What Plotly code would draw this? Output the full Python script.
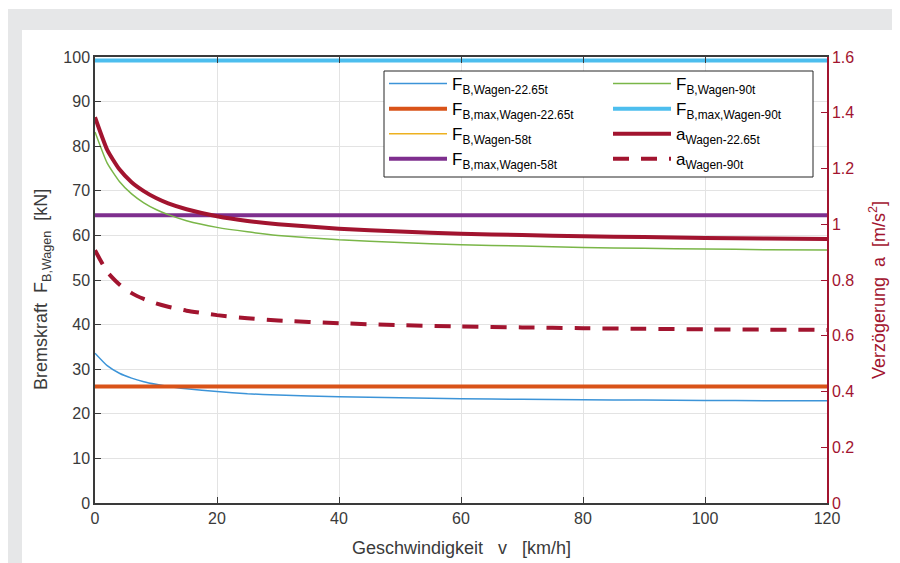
import plotly.graph_objects as go

# ---------------- data ----------------
v = [0, 2, 4, 6, 8, 10, 12, 15, 20, 25, 30, 40, 50, 60, 70, 80, 90, 100, 110, 120]

F_22 = [33.6, 30.8, 29.1, 28.0, 27.2, 26.6, 26.1, 25.6, 25.0, 24.5, 24.2, 23.8, 23.6, 23.4,
        23.25, 23.15, 23.07, 23.0, 22.95, 22.9]
F_58 = [86.5, 79.2, 74.8, 72.0, 69.9, 68.4, 67.2, 65.9, 64.3, 63.3, 62.5, 61.5, 60.9, 60.4,
        60.1, 59.8, 59.6, 59.45, 59.3, 59.2]
F_90 = [83.2, 76.2, 72.1, 69.3, 67.3, 65.8, 64.65, 63.3, 61.8, 60.8, 60.0, 59.0, 58.4, 57.9,
        57.6, 57.3, 57.1, 56.95, 56.8, 56.7]
Fmax_22 = [26.1] * len(v)
Fmax_58 = [64.5] * len(v)
Fmax_90 = [99.2] * len(v)

a_22 = [1.384, 1.267, 1.197, 1.151, 1.119, 1.094, 1.075, 1.054, 1.029, 1.012, 1.000, 0.984,
        0.974, 0.966, 0.961, 0.957, 0.954, 0.951, 0.949, 0.947]
a_90 = [0.907, 0.829, 0.784, 0.753, 0.732, 0.716, 0.704, 0.690, 0.674, 0.663, 0.655, 0.645,
        0.638, 0.633, 0.630, 0.627, 0.625, 0.623, 0.622, 0.621]

x_ticks = [0, 20, 40, 60, 80, 100, 120]
y_ticks = list(range(0, 101, 10))
y2_ticks = [0, 0.2, 0.4, 0.6, 0.8, 1.0, 1.2, 1.4, 1.6]

# ---------------- styling ----------------
FONT = "Liberation Sans, Arial, sans-serif"
GREY = "#3a3a3a"
RED = "#a2142f"
W, H = 900, 563
OFF = 8                      # page (body) offset of the figure in the window
# plot area in window pixels
SL, SR, ST, SB = 95, 827, 57, 503
L, R, T, B = SL - OFF, SR - OFF, ST - OFF, SB - OFF
NB = "\u00a0"


def px_x(s):
    """window x pixel -> paper x"""
    return (s - OFF - L) / (R - L)


def px_y(s):
    """window y pixel -> paper y"""
    return (B - (s - OFF)) / (B - T)


fig = go.Figure()


def add(y, name, color, width, legend, yaxis="y", dash="solid"):
    fig.add_trace(go.Scatter(
        x=v, y=y, name=name, mode="lines", yaxis=yaxis, legend=legend,
        line=dict(color=color, width=width, dash=dash, shape="spline", smoothing=0.5),
        hoverinfo="skip"))


add(F_22, "F<sub>B,Wagen-22.65t</sub>", "#3c94d8", 1.5, "legend")
add(Fmax_22, "F<sub>B,max,Wagen-22.65t</sub>", "#d95319", 4, "legend")
add(F_58, "F<sub>B,Wagen-58t</sub>", "#edb120", 1.5, "legend")
add(Fmax_58, "F<sub>B,max,Wagen-58t</sub>", "#7e2f8e", 4, "legend")
add(F_90, "F<sub>B,Wagen-90t</sub>", "#7ab648", 1.5, "legend2")
add(Fmax_90, "F<sub>B,max,Wagen-90t</sub>", "#4dbeee", 4, "legend2")
add(a_22, "a<sub>Wagen-22.65t</sub>", RED, 4, "legend2", yaxis="y2")
add(a_90, "a<sub>Wagen-90t</sub>", RED, 4, "legend2", yaxis="y2", dash="16px,12px")

shapes = [
    # outer grey frame and inner white panel
    dict(type="rect", xref="paper", yref="paper", layer="below",
         x0=px_x(8), x1=px_x(W + 30), y0=px_y(H + 30), y1=px_y(9),
         fillcolor="#e6e7e8", line=dict(width=0)),
    dict(type="rect", xref="paper", yref="paper", layer="below",
         x0=px_x(22), x1=px_x(894), y0=px_y(H + 30), y1=px_y(30),
         fillcolor="white", line=dict(width=0)),
    # legend box
    dict(type="rect", xref="paper", yref="paper", layer="above",
         x0=px_x(384), x1=px_x(813), y0=px_y(177), y1=px_y(71),
         fillcolor="white", line=dict(color="#262626", width=1)),
]

legend_common = dict(
    bgcolor="rgba(0,0,0,0)", borderwidth=0, font=dict(family=FONT, size=17, color="#000"),
    itemwidth=58, tracegroupgap=0, yanchor="top", xanchor="left", orientation="v",
    itemclick=False, itemdoubleclick=False)

annotations = [
    dict(text=f"Bremskraft{NB}{NB}F<sub>B,Wagen</sub>{NB}{NB}[kN]", textangle=-90,
         xref="paper", yref="paper", x=px_x(42), y=px_y(290), xanchor="center", yanchor="middle",
         showarrow=False, font=dict(family=FONT, size=18, color=GREY)),
    dict(text=f"Verzögerung{NB}{NB}a{NB}{NB}[m/s<sup>2</sup>]", textangle=-90,
         xref="paper", yref="paper", x=px_x(877), y=px_y(290), xanchor="center", yanchor="middle",
         showarrow=False, font=dict(family=FONT, size=18, color=RED)),
    dict(text=f"Geschwindigkeit{NB}{NB}{NB}v{NB}{NB}{NB}[km/h]",
         xref="paper", yref="paper", x=px_x(461), y=px_y(548), xanchor="center", yanchor="middle",
         showarrow=False, font=dict(family=FONT, size=18, color=GREY)),
]

fig.update_layout(
    width=W, height=H,
    margin=dict(l=L, r=W - R, t=T, b=H - B, pad=0),
    paper_bgcolor="white", plot_bgcolor="white",
    font=dict(family=FONT, size=16, color=GREY),
    shapes=shapes,
    annotations=annotations,
    showlegend=True,
    legend=dict(x=px_x(384), y=px_y(66), **legend_common),
    legend2=dict(x=px_x(608), y=px_y(66), **legend_common),
    xaxis=dict(
        range=[0, 120], tickvals=x_ticks, ticks="inside", ticklen=6, tickcolor=GREY,
        showgrid=True, gridcolor="#e3e3e3", gridwidth=1, zeroline=False,
        showline=True, linecolor=GREY, linewidth=1.5, mirror="ticks",
        tickfont=dict(size=16, color=GREY),
    ),
    yaxis=dict(
        range=[0, 100], tickvals=y_ticks, ticks="inside", ticklen=6, tickcolor=GREY,
        showgrid=True, gridcolor="#e3e3e3", gridwidth=1, zeroline=False,
        showline=True, linecolor=GREY, linewidth=1.5,
        tickfont=dict(size=16, color=GREY),
    ),
    yaxis2=dict(
        range=[0, 1.6], tickvals=y2_ticks, ticks="inside", ticklen=6, tickcolor=RED,
        overlaying="y", side="right", showgrid=False, zeroline=False,
        showline=True, linecolor=RED, linewidth=1.5,
        tickfont=dict(size=16, color=RED),
    ),
)

fig.write_html("out.html")
